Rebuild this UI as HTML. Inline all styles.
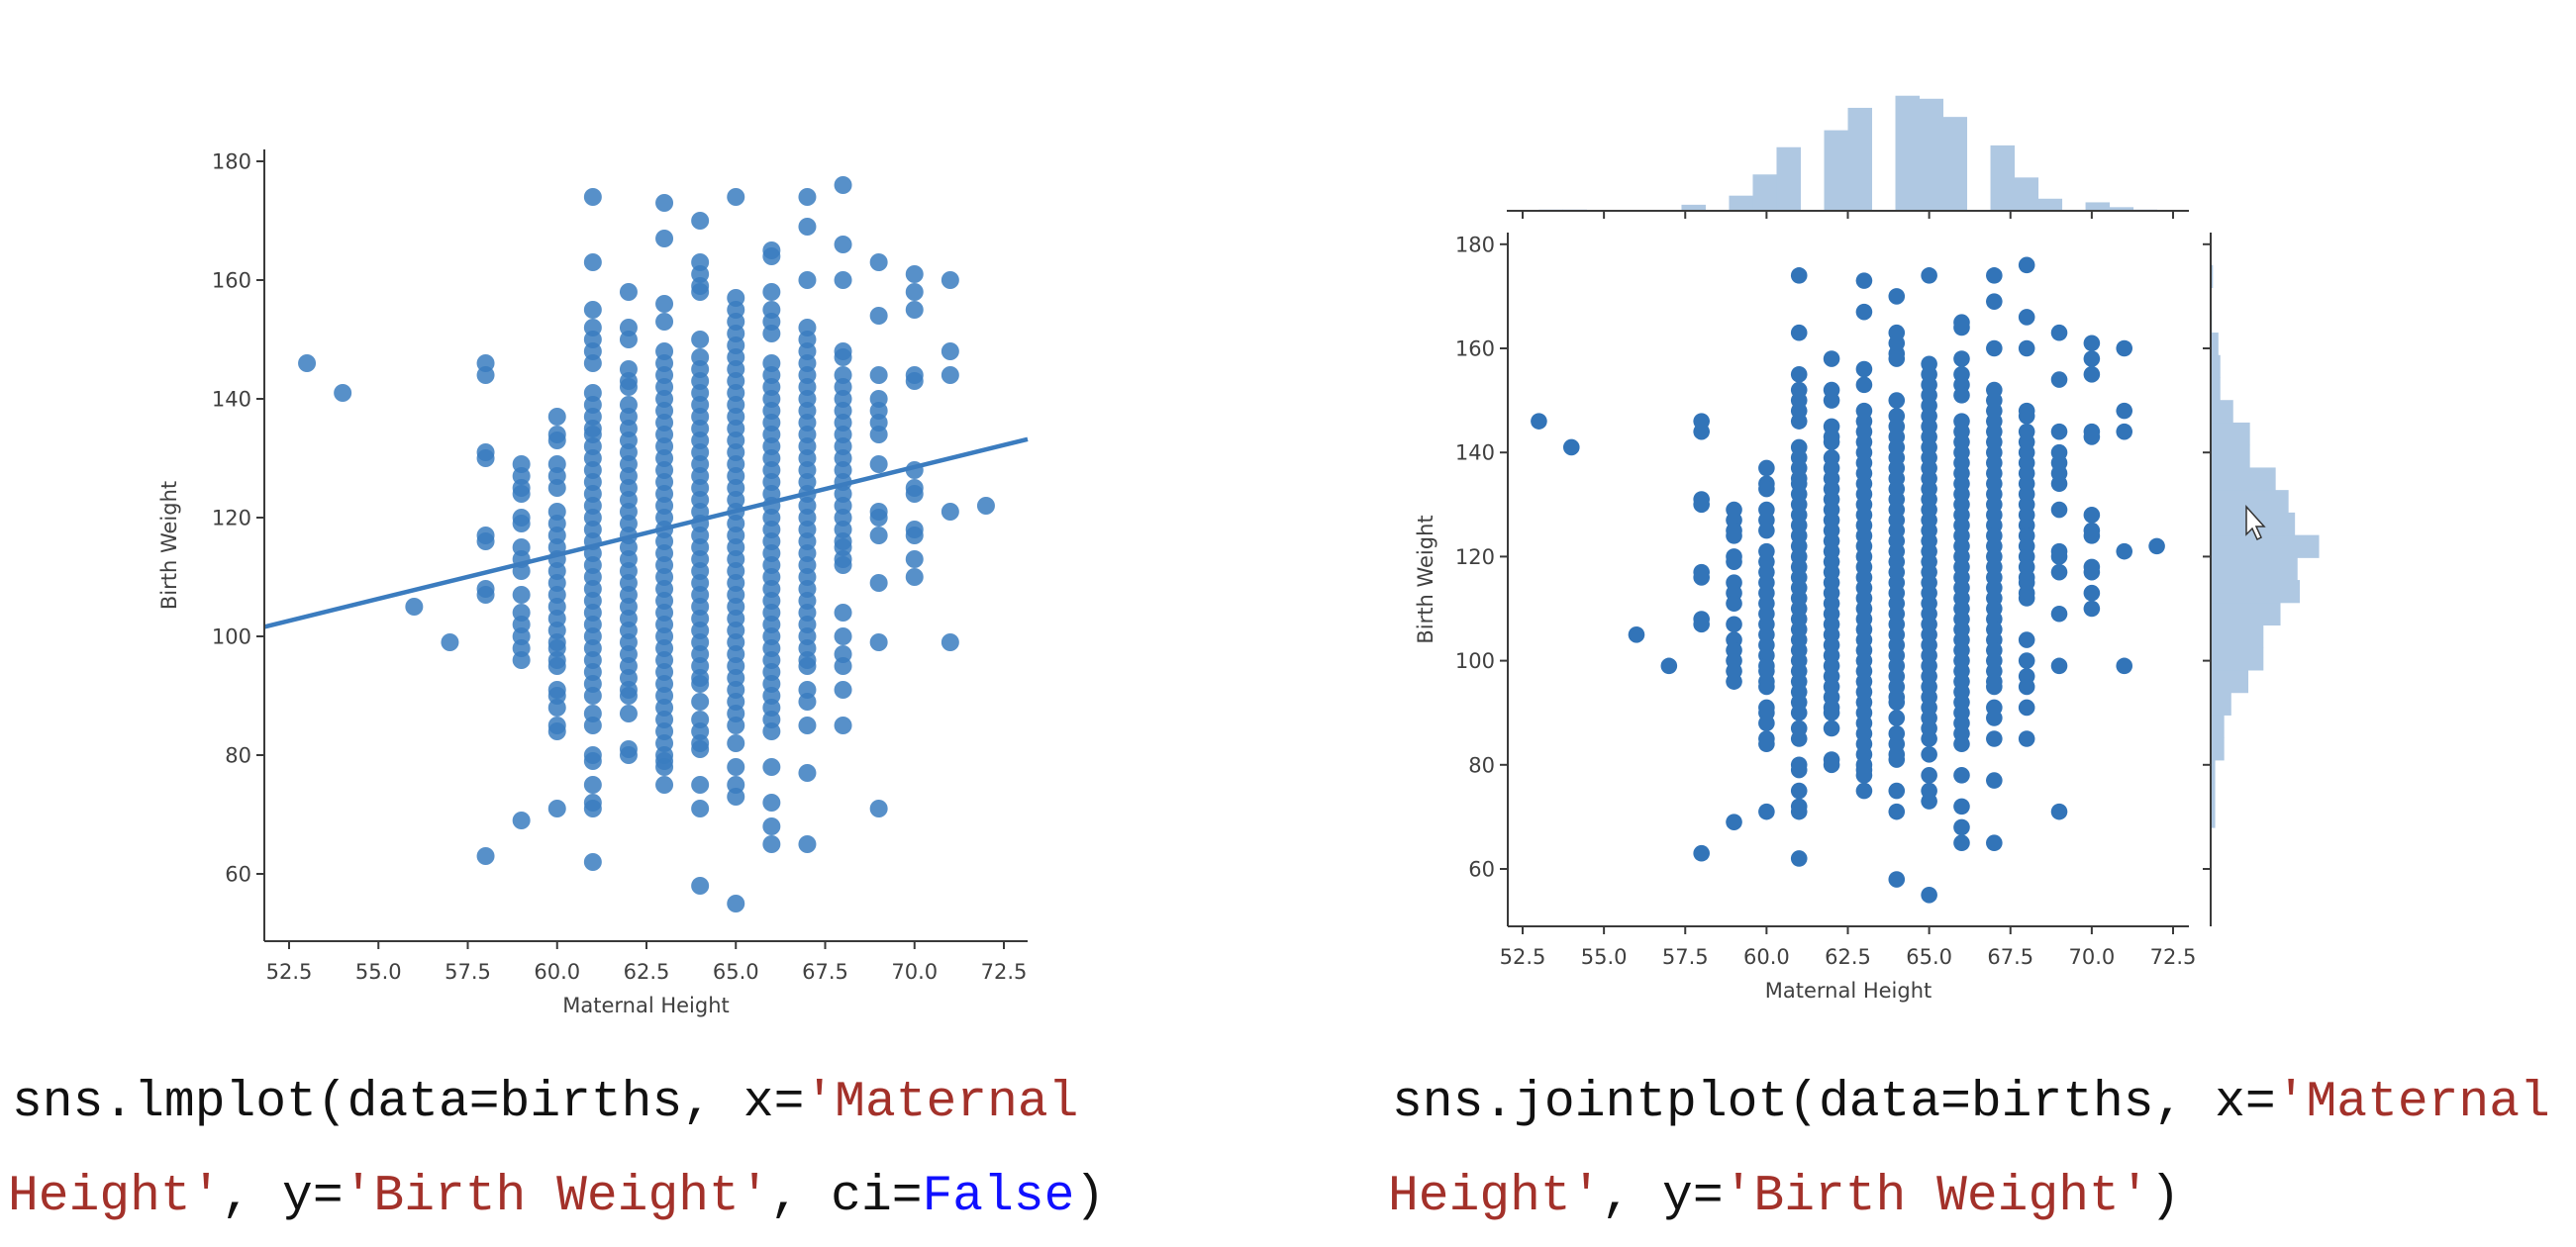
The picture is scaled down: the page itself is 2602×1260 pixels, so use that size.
<!DOCTYPE html>
<html><head><meta charset="utf-8">
<style>
html,body{margin:0;padding:0;background:#fff;}
body{width:2602px;height:1260px;overflow:hidden;position:relative;}
svg{position:absolute;left:0;top:0;}
.code{position:absolute;font-family:"Liberation Mono","DejaVu Sans Mono",monospace;font-size:51.3px;color:#111;white-space:pre;line-height:1;}
.s{color:#a3312a;}
.k{color:#1010ff;}
</style></head>
<body>
<svg id="chart" width="2602" height="1260" viewBox="0 0 2602 1260" xmlns="http://www.w3.org/2000/svg"></svg>
<div class="code" style="left:12px;top:1089px;">sns.lmplot(data=births, x=<span class="s">'Maternal</span></div>
<div class="code" style="left:8px;top:1184px;"><span class="s">Height'</span>, y=<span class="s">'Birth Weight'</span>, ci=<span class="k">False</span>)</div>
<div class="code" style="left:1406px;top:1089px;">sns.jointplot(data=births, x=<span class="s">'Maternal</span></div>
<div class="code" style="left:1402px;top:1184px;"><span class="s">Height'</span>, y=<span class="s">'Birth Weight'</span>)</div>
<script>
// ---- data ----
const heightCols = [53,54,56,57,58,59,60,61,62,63,64,65,66,67,68,69,70,71,72];
const weightsByHeight = [
 [146],
 [141],
 [105],
 [99],
 [146,144,131,130,117,116,108,107,63],
 [129,127,125,124,120,119,115,113,111,107,104,102,100,98,96,69],
 [137,134,133,129,127,125,121,119,117,115,113,111,109,107,105,103,101,99,98,96,95,91,90,88,85,84,71],
 [174,163,155,152,150,148,146,141,139,137,135,134,132,130,128,126,124,122,120,118,116,114,112,110,108,106,104,102,100,98,96,94,92,90,87,85,80,79,75,72,71,62],
 [158,152,150,145,143,142,139,137,135,133,131,129,127,125,123,121,119,117,115,113,111,109,107,105,103,101,99,97,95,93,91,90,87,81,80],
 [173,167,156,153,148,146,144,142,140,138,136,134,132,130,128,126,124,122,120,118,116,114,112,110,108,106,104,102,100,98,96,94,92,90,88,86,84,82,80,79,78,75],
 [170,163,161,159,158,150,147,145,143,141,139,137,135,133,131,129,127,125,123,121,119,117,115,113,111,109,107,105,103,101,99,97,95,93,92,89,86,84,82,81,75,71,58],
 [174,157,155,153,151,149,147,145,143,141,139,137,135,133,131,129,127,125,123,121,119,117,115,113,111,109,107,105,103,101,99,97,95,93,91,89,87,85,82,78,75,73,55],
 [165,164,158,155,153,151,146,144,142,140,138,136,134,132,130,128,126,124,122,120,118,116,114,112,110,108,106,104,102,100,98,96,94,92,90,88,86,84,78,72,68,65],
 [174,169,160,152,150,148,146,144,142,140,138,136,134,132,130,128,126,124,122,120,118,116,114,112,110,108,106,104,102,100,98,96,95,91,89,85,77,65],
 [176,166,160,148,147,144,142,140,138,136,134,132,130,128,126,124,122,120,118,116,115,113,112,104,100,97,95,91,85],
 [163,154,144,140,138,136,134,129,121,120,117,109,99,71],
 [161,158,155,144,143,128,125,124,118,117,113,110],
 [160,148,144,121,99],
 [122]
];
const fitY = [101.6, 133.2]; // regression line values at x-axis limits
const xTicks = [52.5,55.0,57.5,60.0,62.5,65.0,67.5,70.0,72.5];
const xTickLabels = ["52.5","55.0","57.5","60.0","62.5","65.0","67.5","70.0","72.5"];
const yTicks = [60,80,100,120,140,160,180];
const yTickLabels = ["60","80","100","120","140","160","180"];
const heightHistStart = 53, heightHistEnd = 72;
const heightHistCounts = [2,2,0,0,1,1,10,0,25,60,105,0,133,170,0,190,185,155,0,108,55,20,0,14,6,2];
const weightHistStart = 55, weightHistEnd = 176;
const weightHistCounts = [1,1,1,14,14,14,42,42,64,117,164,164,217,277,270,337,262,242,202,122,122,70,30,30,24,4,2,7];

// ---- drawing ----
const NS = "http://www.w3.org/2000/svg";
const svg = document.getElementById("chart");
function mk(tag, attrs, parent){
  const e = document.createElementNS(NS, tag);
  for (const k in attrs) e.setAttribute(k, attrs[k]);
  (parent||svg).appendChild(e);
  return e;
}
const AX = "#3a3a3a", TXT = "#404040", FONT = "DejaVu Sans, Liberation Sans, sans-serif";

function drawPanel(o){
  const g = mk("g", {});
  
  
  const sx = v => o.x0 + (v - 52.5) * o.kx;
  const sy = v => o.y0 - (v - 60) * o.ky;
  const xmin = o.left, xmax = o.right, ymin = o.top, ymax = o.bottom;
  const pg = mk("g", {fill:o.color, "fill-opacity":o.alpha}, g);
  
  
  heightCols.forEach((h, i) => {
    weightsByHeight[i].forEach(w => {
      const c = mk("circle", {cx:sx(h), cy:sy(w), r:o.r}, pg);
      
      
    });
  });
  if (o.fit){
    const vx0 = 52.5 + (xmin - o.x0)/o.kx, vx1 = 52.5 + (xmax - o.x0)/o.kx;
    const ln = mk("line", {x1:sx(vx0), y1:sy(fitY[0]), x2:sx(vx1), y2:sy(fitY[1]), stroke:"#3b7cbf", "stroke-width":4.5}, g);
    
    
  }
  const ys = mk("line", {x1:xmin, y1:ymin, x2:xmin, y2:ymax, stroke:AX, "stroke-width":2}, g);
  
  
  const xs = mk("line", {x1:xmin, y1:ymax, x2:xmax, y2:ymax, stroke:AX, "stroke-width":2}, g);
  
  
  xTicks.forEach((t, i) => {
    const x = sx(t);
    mk("line", {x1:x, y1:ymax, x2:x, y2:ymax+8, stroke:AX, "stroke-width":2}, g);
    const tx = mk("text", {x:x, y:ymax+38, "text-anchor":"middle", "font-family":FONT, "font-size":21, fill:TXT}, g);
    tx.textContent = xTickLabels[i];
    
    
  });
  yTicks.forEach((t, i) => {
    const y = sy(t);
    mk("line", {x1:xmin-8, y1:y, x2:xmin, y2:y, stroke:AX, "stroke-width":2}, g);
    const tx = mk("text", {x:xmin-13, y:y+7.5, "text-anchor":"end", "font-family":FONT, "font-size":21, fill:TXT}, g);
    tx.textContent = yTickLabels[i];
    
    
  });
  const xl = mk("text", {x:(xmin+xmax)/2, y:ymax+72, "text-anchor":"middle", "font-family":FONT, "font-size":21, fill:TXT}, g);
  xl.textContent = "Maternal Height";
  
  
  const yl = mk("text", {x:0, y:0, "text-anchor":"middle", "font-family":FONT, "font-size":21, fill:TXT,
    transform:`translate(${o.ylabX},${(ymin+ymax)/2}) rotate(-90)`}, g);
  yl.textContent = "Birth Weight";
  
  
  return {sx, sy};
}

drawPanel({name:"lmplot-panel", x0:292, kx:36.1, y0:883, ky:6.0, left:267, right:1038, top:151, bottom:951,
  r:9, color:"#3a7dbf", alpha:0.85, fit:true, ylabX:178});

const R = drawPanel({name:"jointplot-panel", x0:1538, kx:32.85, y0:878, ky:5.26, left:1523, right:2211, top:235, bottom:936,
  r:8.3, color:"#3274b8", alpha:1, fit:false, ylabX:1447});

const HC = "#afc8e2";
const tg = mk("g", {});


const topBase = 213, topScale = 0.612;
const hbw = (heightHistEnd - heightHistStart) / heightHistCounts.length;
heightHistCounts.forEach((c, i) => {
  if (c <= 0) return;
  const x0 = R.sx(heightHistStart + i*hbw), x1 = R.sx(heightHistStart + (i+1)*hbw);
  const b = mk("rect", {x:x0, y:topBase - c*topScale, width:x1-x0+0.5, height:c*topScale, fill:HC}, tg);
  
  
});
mk("line", {x1:1522, y1:topBase, x2:2211, y2:topBase, stroke:AX, "stroke-width":2}, tg);
xTicks.forEach(t => {
  mk("line", {x1:R.sx(t), y1:topBase, x2:R.sx(t), y2:topBase+8, stroke:AX, "stroke-width":2}, tg);
});

const rg = mk("g", {});


const rBase = 2233, rScale = 0.325;
const wbw = (weightHistEnd - weightHistStart) / weightHistCounts.length;
weightHistCounts.forEach((c, i) => {
  if (c <= 0) return;
  const y0 = R.sy(weightHistStart + (i+1)*wbw), y1 = R.sy(weightHistStart + i*wbw);
  const b = mk("rect", {x:rBase, y:y0, width:c*rScale, height:y1-y0+0.5, fill:HC}, rg);
  
  
});
mk("line", {x1:rBase, y1:235, x2:rBase, y2:936, stroke:AX, "stroke-width":2}, rg);
yTicks.forEach(t => {
  mk("line", {x1:rBase-8, y1:R.sy(t), x2:rBase, y2:R.sy(t), stroke:AX, "stroke-width":2}, rg);
});

const cur = mk("path", {d:"M2269,512 L2269,540 L2275,534 L2280,545 L2284,543 L2279,532 L2287,532 Z", fill:"#fff", stroke:"#333", "stroke-width":1.5});


</script>
</body></html>
